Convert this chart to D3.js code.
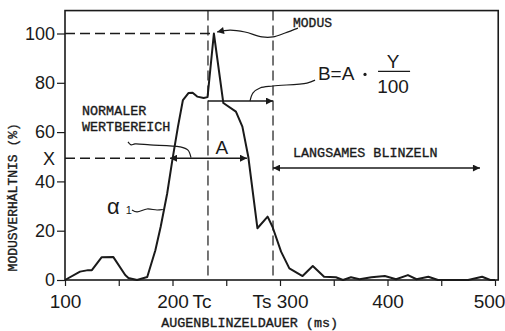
<!DOCTYPE html>
<html><head><meta charset="utf-8">
<script src="https://cdn.jsdelivr.net/npm/d3@7"></script>
<style>body{margin:0;background:#fff}svg{display:block}</style>
</head><body><svg id="c" width="505" height="331"></svg>
<script>
// ---- data ----
const durations = [100,114,121.5,125,134,145,156,159,167,176.5,184,189,195,200,205,209.7,215,218.7,223,229,232.6,238.5,247.3,259,265,270.5,279,288.5,293,301,308.7,321,330.5,341,352,358.6,366,374,385,397.5,408,419,427,438,447,475,488,495.6,500];
const ratios    = [0,3.4,4,4,9.2,9.3,2,0.8,0,1.2,12,21.6,35,49,62,73,75.9,76,74.4,73.8,74.2,100,71.8,68.3,62.2,50,21,25.7,21.6,11.5,4.7,1.6,5.7,1.3,1.1,0,1.1,0.3,1.1,1.6,0.3,2,0.3,1.3,0,0,1.3,0,0];
const xTicks = [100,150,200,250,300,350,400,450,500];
const xTickLabels = {100:"100",200:"200",300:"Ts 300",400:"400",500:"500"};
const yTicks = [0,20,40,60,80,100];
const yTickLabels = {0:"0",20:"20",40:"40",60:"60",80:"80",100:"100"};
const Tc = 233, Ts = 293.5, Xlevel = 49.4, Bvalue = 72.6, modusValue = 100, modusAt = 238.5;
const xMax = 503, yMax = 109.3;

// annotation leader paths (data units)
const modusLeader = [[241.4,100.6],[253.5,101.4],[267.4,100.6],[283.3,98.6],[293.5,98.6],[304.7,100.2],[316.7,102.2]];
const bLeader = [[332.6,81.1],[325.1,79.9],[293.5,78.7],[281.4,77.9],[274.9,75.9],[272.1,72.6]];
const normLeader = [[158.6,56.0],[161.4,54.8],[165.1,55.2],[179.1,54.8],[207.0,54.0],[214.4,52.7],[217.2,49.6]];
const alphaLeader = [[162.3,28.4],[167.0,27.6],[176.3,28.8],[185.6,28.4],[191,28.6]];
const aArrow = [197.7, 269.3];
const slowArrow = [Ts, 486, 45.4];

// ---- scales ----
const svg = d3.select("#c");
const x = d3.scaleLinear().domain([100,500]).range([65,495]);
const y = d3.scaleLinear().domain([0,100]).range([280,33.5]);
const ink = "#1a1a1a";
const mono = "'Liberation Mono','Courier New',monospace";
const sans = "'Liberation Sans',Arial,sans-serif";

const defs = svg.append("defs");
defs.append("marker").attr("id","arr").attr("viewBox","0 0 10 10")
  .attr("refX",10).attr("refY",5).attr("markerWidth",9).attr("markerHeight",7)
  .attr("markerUnits","userSpaceOnUse").attr("orient","auto-start-reverse")
  .append("path").attr("d","M0,0L10,5L0,10z").attr("fill",ink);

// frame
svg.append("rect").attr("x",x(100)).attr("y",y(yMax))
  .attr("width",x(xMax)-x(100)).attr("height",y(0)-y(yMax))
  .attr("fill","none").attr("stroke",ink).attr("stroke-width",1.6);

// axes
const xa = svg.append("g").attr("transform",`translate(0,${y(0)})`)
  .call(d3.axisBottom(x).tickValues(xTicks).tickSizeInner(6).tickSizeOuter(0).tickPadding(9)
    .tickFormat(d=>xTickLabels[d]||""));
xa.select(".domain").remove();
xa.selectAll("line").attr("stroke",ink).attr("stroke-width",1.2);
xa.selectAll("text").attr("font-family",sans).attr("font-size",19).attr("fill",ink)
  .attr("dx",d=>d===500?-6:0);

const ya = svg.append("g").attr("transform",`translate(${x(100)},0)`)
  .call(d3.axisLeft(y).tickValues(yTicks).tickSizeInner(8).tickSizeOuter(0).tickPadding(2)
    .tickFormat(d=>yTickLabels[d]));
ya.select(".domain").remove();
ya.selectAll("line").attr("stroke",ink).attr("stroke-width",1.2);
ya.selectAll("text").attr("font-family",sans).attr("font-size",18).attr("fill",ink);

// extra axis labels
svg.append("text").attr("x",x(200)+20).attr("y",y(0)+28).text("Tc")
  .attr("font-family",sans).attr("font-size",19).attr("fill",ink);
svg.append("text").attr("x",x(100)-10).attr("y",y(Xlevel)).attr("dy","0.36em")
  .attr("text-anchor","end").text("X")
  .attr("font-family",sans).attr("font-size",18).attr("fill",ink);

// typewriter text style
function typed(sel,size){
  return sel.attr("font-family",mono).attr("font-size",size).attr("fill","#1a1a1a")
    .attr("stroke","#1a1a1a").attr("stroke-width",0.35);
}

// axis titles
typed(svg.append("text").attr("x",(x(100)+x(xMax))/2-32).attr("y",327).attr("text-anchor","middle")
  .text("AUGENBLINZELDAUER (ms)"),13.4);
typed(svg.append("text").attr("transform",`translate(17,${(y(0)+y(yMax))/2+52}) rotate(-90)`)
  .attr("text-anchor","middle").text("MODUSVERHÄLTNIS (%)"),13);

// dashed reference lines
const dash = "10,5";
svg.append("line").attr("x1",x(Tc)).attr("x2",x(Tc)).attr("y1",y(yMax)).attr("y2",y(0))
  .attr("stroke",ink).attr("stroke-width",1.2).attr("stroke-dasharray",dash);
svg.append("line").attr("x1",x(Ts)).attr("x2",x(Ts)).attr("y1",y(yMax)).attr("y2",y(0))
  .attr("stroke",ink).attr("stroke-width",1.2).attr("stroke-dasharray",dash);
svg.append("line").attr("x1",x(100)).attr("x2",x(modusAt)).attr("y1",y(modusValue)).attr("y2",y(modusValue))
  .attr("stroke",ink).attr("stroke-width",1.4).attr("stroke-dasharray",dash);
svg.append("line").attr("x1",x(100)).attr("x2",x(aArrow[0])-3).attr("y1",y(Xlevel)).attr("y2",y(Xlevel))
  .attr("stroke",ink).attr("stroke-width",1.4).attr("stroke-dasharray",dash);

// data curve
const line = d3.line().x((d,i)=>x(durations[i])).y((d,i)=>y(ratios[i]));
svg.append("path").datum(ratios).attr("d",line)
  .attr("fill","none").attr("stroke",ink).attr("stroke-width",2).attr("stroke-linejoin","round");

// arrows
svg.append("line").attr("x1",x(aArrow[0])).attr("x2",x(aArrow[1])).attr("y1",y(Xlevel)).attr("y2",y(Xlevel))
  .attr("stroke",ink).attr("stroke-width",1.5)
  .attr("marker-start","url(#arr)").attr("marker-end","url(#arr)");
svg.append("line").attr("x1",x(Tc)).attr("x2",x(Ts)).attr("y1",y(Bvalue)).attr("y2",y(Bvalue))
  .attr("stroke",ink).attr("stroke-width",1.5).attr("marker-end","url(#arr)");
svg.append("line").attr("x1",x(slowArrow[0])).attr("x2",x(slowArrow[1])).attr("y1",y(slowArrow[2])).attr("y2",y(slowArrow[2]))
  .attr("stroke",ink).attr("stroke-width",1.5)
  .attr("marker-start","url(#arr)").attr("marker-end","url(#arr)");

// leaders
const lead = d3.line().x(d=>x(d[0])).y(d=>y(d[1])).curve(d3.curveCatmullRom);
svg.append("path").attr("d",lead(modusLeader)).attr("fill","none").attr("stroke",ink)
  .attr("stroke-width",1.2).attr("marker-start","url(#arr)");
[bLeader,normLeader,alphaLeader].forEach(p=>{
  svg.append("path").attr("d",lead(p)).attr("fill","none").attr("stroke",ink).attr("stroke-width",1.2);
});

// annotation texts
function txt(ms,v,s,font,size,anchor){
  return svg.append("text").attr("x",x(ms)).attr("y",y(v)).text(s)
    .attr("font-family",font).attr("font-size",size).attr("fill",ink)
    .attr("text-anchor",anchor||"start");
}
typed(txt(312.1,102.6,"MODUS",mono,13),13);
typed(txt(115.8,66.9,"NORMALER",mono,13.4),13.4);
typed(txt(115.8,60.4,"WERTBEREICH",mono,13.4),13.4);
typed(txt(312.1,49.9,"LANGSAMES BLINZELN",mono,13.4),13.4);
txt(246.0,51.3,"A",sans,19,"middle");
txt(335.3,81.1,"B=A",sans,19,"start");
svg.append("circle").attr("cx",x(379.1)).attr("cy",y(83.4)).attr("r",1.6).attr("fill",ink);
txt(405.1,86.0,"Y",sans,19,"middle");
svg.append("line").attr("x1",x(391.2)).attr("x2",x(421.0)).attr("y1",y(84.6)).attr("y2",y(84.6))
  .attr("stroke",ink).attr("stroke-width",1.3);
txt(405.1,75.9,"100",sans,19,"middle");
txt(139.1,26.8,"α",sans,22,"start");
txt(156.5,26.8,"1",sans,11,"start");
</script></body></html>
